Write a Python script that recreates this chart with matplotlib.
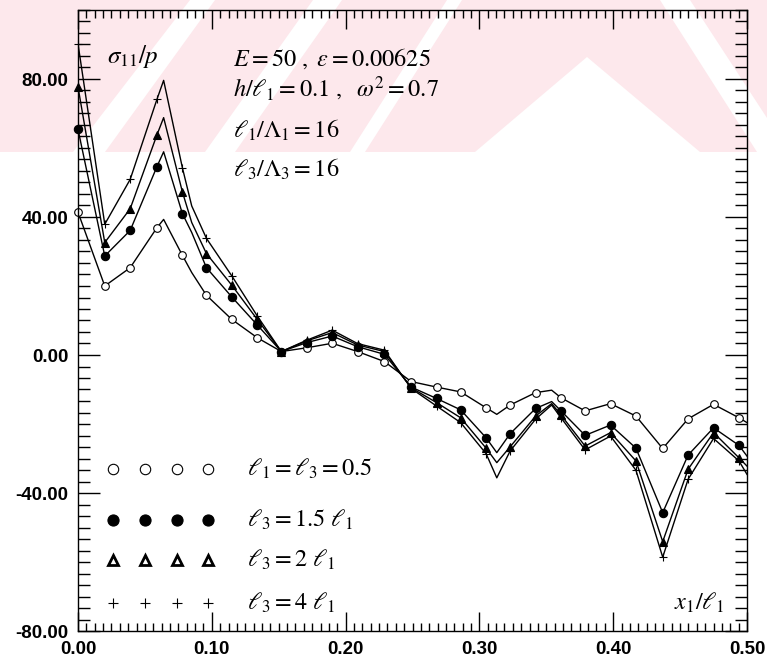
import matplotlib
matplotlib.use("Agg")
import matplotlib.pyplot as plt
from matplotlib.patches import Polygon
from matplotlib.ticker import MultipleLocator, FormatStrFormatter

plt.rcParams['mathtext.fontset'] = 'stix'
plt.rcParams['axes.unicode_minus'] = False

# node positions x1/l1 where stresses are marked
x_nodes = [0.0, 0.020, 0.039, 0.059, 0.078, 0.096, 0.115, 0.134, 0.152,
           0.171, 0.190, 0.209, 0.229, 0.249, 0.268, 0.286, 0.305, 0.323,
           0.342, 0.361, 0.379, 0.398, 0.417, 0.437, 0.456, 0.475, 0.494]

# sigma_11 / p at the nodes
s_l05 = [41.4, 20.0, 25.3, 36.9, 28.9, 17.3, 10.3, 5.0, 1.0, 2.1, 3.4, 1.0,
         -1.9, -7.7, -9.3, -10.7, -15.3, -14.5, -10.9, -12.4, -16.2, -14.1,
         -17.7, -27.1, -18.5, -14.3, -18.2]
s_l15 = [65.4, 28.7, 36.1, 54.6, 41.0, 25.3, 16.8, 8.7, 1.0, 3.6, 5.5, 2.4,
         0.2, -9.3, -12.6, -15.9, -24.0, -22.8, -15.5, -16.2, -23.3, -20.3,
         -27.0, -45.7, -29.0, -21.1, -26.2]
s_l2 = [77.7, 32.6, 42.4, 63.8, 47.3, 29.4, 20.2, 10.3, 1.0, 4.1, 6.5, 2.9,
        1.0, -9.5, -13.8, -18.2, -27.0, -26.6, -17.7, -17.4, -26.4, -22.5,
        -30.7, -54.1, -33.1, -22.5, -29.8]
s_l4 = [90.2, 37.9, 50.9, 74.1, 54.3, 33.8, 22.9, 11.3, 1.0, 4.3, 7.2, 3.3,
        1.4, -9.7, -14.8, -19.6, -28.6, -27.8, -18.6, -18.2, -27.5, -23.5,
        -33.4, -58.6, -36.0, -24.2, -30.7]

# extra curve points between the marked nodes (peaks, kinks, end of strip)
x_extra = [0.064, 0.085, 0.313, 0.354, 0.500]
e_l05 = [39.3, 23.9, -17.2, -10.2, -19.6]
e_l15 = [58.9, 35.5, -28.3, -13.5, -29.3]
e_l2 = [68.8, 38.4, -31.2, -14.1, -32.2]
e_l4 = [79.6, 43.2, -35.6, -14.5, -34.6]

labels = [r'$\ell_1 = \ell_3 = 0.5$', r'$\ell_3 = 1.5\ \ell_1$',
          r'$\ell_3 = 2\ \ell_1$', r'$\ell_3 = 4\ \ell_1$']

styles = [
    dict(marker='o', ms=5.5, mfc='white', mec='black', mew=0.8),
    dict(marker='o', ms=6, mfc='black', mec='black', mew=0.8),
    dict(marker='^', ms=5.5, mfc='black', mec='black', mew=0.8),
    dict(marker='+', ms=6, mfc='none', mec='black', mew=0.8),
]
legend_styles = [
    dict(marker='o', ms=7.5, mfc='white', mec='black', mew=0.8),
    dict(marker='o', ms=8, mfc='black', mec='black', mew=0.8),
    dict(marker='^', ms=6.5, mfc='white', mec='black', mew=2.0),
    dict(marker='+', ms=7, mfc='none', mec='black', mew=0.8),
]


def curve(vals, extra):
    pts = sorted(zip(x_nodes + x_extra, vals + extra))
    return [p[0] for p in pts], [p[1] for p in pts]


W, H = 767, 664
fig = plt.figure(figsize=(W / 100, H / 100), dpi=100)

# faint striped stamp behind the top of the plot
stamp = [
    [(0, 0), (190, 0), (73, 152), (0, 152)],
    [(215, 0), (313, 0), (205, 152), (105, 152)],
    [(342, 0), (447, 0), (350, 152), (235, 152)],
    [(462, 0), (660, 0), (757, 152), (700, 152), (587, 57), (475, 152), (365, 152)],
    [(690, 0), (767, 0), (767, 118)],
]
for poly in stamp:
    fig.patches.append(Polygon([(px / W, 1 - py / H) for px, py in poly],
                               closed=True, transform=fig.transFigure,
                               facecolor='#fde8ec', edgecolor='none', zorder=-10))

ax = fig.add_axes([78 / W, 1 - 631 / H, 669 / W, 621 / H])
ax.patch.set_alpha(0)

for vals, extra, st in zip([s_l05, s_l15, s_l2, s_l4],
                           [e_l05, e_l15, e_l2, e_l4], styles):
    lx, ly = curve(vals, extra)
    ax.plot(lx, ly, color='black', lw=1.0)
    ax.plot(x_nodes, vals, linestyle='none', clip_on=False, **st)

# hand-placed key in the lower left
key_y = [0.261, 0.179, 0.114, 0.045]
key_x = [0.052, 0.100, 0.148, 0.194]
for ky, st, lab in zip(key_y, legend_styles, labels):
    ax.plot(key_x, [ky] * len(key_x), linestyle='none',
            transform=ax.transAxes, **st)
    ax.text(0.2526, ky, lab, transform=ax.transAxes, fontsize=17.5,
            ha='left', va='center')

ax.text(0.043, 0.915, r'$\sigma_{11}/p$', transform=ax.transAxes,
        fontsize=18, ha='left', va='baseline')
info = [r'$E = 50\ ,\ \varepsilon = 0.00625$',
        r'$h/\ell_1 = 0.1\ ,\ \ \omega^2 = 0.7$',
        r'$\ell_1/\Lambda_1 = 16$',
        r'$\ell_3/\Lambda_3 = 16$']
for yb, txt in zip([0.911, 0.860, 0.794, 0.731], info):
    ax.text(0.232, yb, txt, transform=ax.transAxes, fontsize=17.5,
            ha='left', va='baseline')
ax.text(0.967, 0.045, r'$x_1/\ell_1$', transform=ax.transAxes,
        fontsize=17.5, ha='right', va='center')

ax.set_xlim(0, 0.5)
ax.set_ylim(-80, 100)
ax.xaxis.set_major_locator(MultipleLocator(0.1))
ax.xaxis.set_minor_locator(MultipleLocator(0.00625))
ax.yaxis.set_major_locator(MultipleLocator(40))
ax.yaxis.set_minor_locator(MultipleLocator(40 / 12))
ax.xaxis.set_major_formatter(FormatStrFormatter('%.2f'))
ax.yaxis.set_major_formatter(FormatStrFormatter('%.2f'))

ax.tick_params(which='both', direction='in', top=True, right=True, width=1.0)
ax.tick_params(axis='x', which='major', length=14, pad=7)
ax.tick_params(axis='x', which='minor', length=6)
ax.tick_params(axis='y', which='major', length=16, pad=7)
ax.tick_params(axis='y', which='minor', length=8.5)
for lab in ax.get_xticklabels() + ax.get_yticklabels():
    lab.set_fontfamily('Liberation Sans')
    lab.set_fontweight('bold')
    lab.set_fontsize(13.5)
for sp in ax.spines.values():
    sp.set_linewidth(1.0)

fig.savefig('out.png', dpi=100)
